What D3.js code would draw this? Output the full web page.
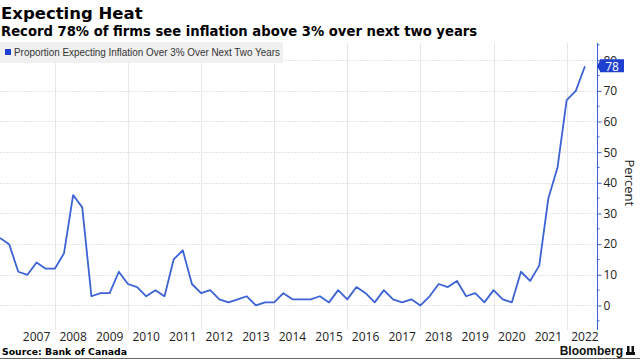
<!DOCTYPE html>
<html>
<head>
<meta charset="utf-8">
<script src="https://cdn.jsdelivr.net/npm/d3@7"></script>
<style>
  html, body { margin: 0; padding: 0; background: #ffffff; }
  svg { display: block; }
</style>
</head>
<body>
<script>
// ---- Data ----
const quarters = [
  "2006Q2","2006Q3","2006Q4",
  "2007Q1","2007Q2","2007Q3","2007Q4",
  "2008Q1","2008Q2","2008Q3","2008Q4",
  "2009Q1","2009Q2","2009Q3","2009Q4",
  "2010Q1","2010Q2","2010Q3","2010Q4",
  "2011Q1","2011Q2","2011Q3","2011Q4",
  "2012Q1","2012Q2","2012Q3","2012Q4",
  "2013Q1","2013Q2","2013Q3","2013Q4",
  "2014Q1","2014Q2","2014Q3","2014Q4",
  "2015Q1","2015Q2","2015Q3","2015Q4",
  "2016Q1","2016Q2","2016Q3","2016Q4",
  "2017Q1","2017Q2","2017Q3","2017Q4",
  "2018Q1","2018Q2","2018Q3","2018Q4",
  "2019Q1","2019Q2","2019Q3","2019Q4",
  "2020Q1","2020Q2","2020Q3","2020Q4",
  "2021Q1","2021Q2","2021Q3","2021Q4",
  "2022Q1","2022Q2"
];
const proportionValues = [
  22, 20, 11,
  10, 14, 12, 12,
  17, 36, 32, 3,
  4, 4, 11, 7,
  6, 3, 5, 3,
  15, 18, 7, 4,
  5, 2, 1, 2,
  3, 0, 1, 1,
  4, 2, 2, 2,
  3, 1, 5, 2,
  6, 4, 1, 5,
  2, 1, 2, 0,
  3, 7, 6, 8,
  3, 4, 1, 5,
  2, 1, 11, 8,
  13, 35, 45, 67,
  70, 78
];
const yearLabels = ["2007","2008","2009","2010","2011","2012","2013","2014","2015","2016","2017","2018","2019","2020","2021","2022"];
const gridYears = [2008, 2010, 2012, 2014, 2016, 2018, 2020, 2022];
const yTicks = [0, 10, 20, 30, 40, 50, 60, 70, 80];
const yMinorTicks = [-5, 5, 15, 25, 35, 45, 55, 65, 75, 85];
const seriesName = "Proportion Expecting Inflation Over 3% Over Next Two Years";
const titleText = "Expecting Heat";
const subtitleText = "Record 78% of firms see inflation above 3% over next two years";
const sourceText = "Source: Bank of Canada";

// ---- Setup ----
const W = 640, H = 359;
const plot = { left: 0, right: 597, top: 43, bottom: 330 };
const lineColor = "#3c63d3";
const axisColor = "#3c63d3";
const boldFont = "DejaVu Sans, Verdana, sans-serif";

const svg = d3.select("body").append("svg").attr("width", W).attr("height", H);

const toYear = q => +q.slice(0, 4) + (+q.slice(5)) / 4;

const x = d3.scaleLinear().domain([2006.5, 2022.83]).range([plot.left, plot.right]);
const y = d3.scaleLinear().domain([-8, 85.6]).range([plot.bottom, plot.top]);

// Title & subtitle
svg.append("text").attr("x", 1).attr("y", 19)
  .attr("font-family", boldFont).attr("font-weight", "bold")
  .attr("font-size", 16.5).attr("fill", "#000").text(titleText);
svg.append("text").attr("x", 1).attr("y", 36)
  .attr("font-family", boldFont).attr("font-weight", "bold")
  .attr("font-size", 13.2).attr("fill", "#000").text(subtitleText);

// Gridlines
const grid = svg.append("g");
grid.selectAll("line.h").data(yTicks).join("line")
  .attr("x1", plot.left).attr("x2", plot.right)
  .attr("y1", d => Math.round(y(d)) + 0.5).attr("y2", d => Math.round(y(d)) + 0.5)
  .attr("stroke", "#e3e3e3").attr("stroke-width", 1).attr("stroke-dasharray", "2,1");
grid.selectAll("line.v").data(gridYears).join("line")
  .attr("x1", d => Math.round(x(d)) + 0.5).attr("x2", d => Math.round(x(d)) + 0.5)
  .attr("y1", plot.top).attr("y2", plot.bottom)
  .attr("stroke", "#e6e6e6").attr("stroke-width", 1);

// Legend
const legend = svg.append("g");
legend.append("rect").attr("x", 0).attr("y", 42).attr("width", 283).attr("height", 21).attr("fill", "#f0f0f0");
legend.append("rect").attr("x", 5).attr("y", 49).attr("width", 6).attr("height", 6).attr("fill", "#1f3fd0");
legend.append("text").attr("x", 14).attr("y", 56)
  .attr("font-family", "Liberation Sans Narrow, Arial Narrow, sans-serif")
  .attr("font-size", 10.5).attr("fill", "#333")
  .attr("textLength", 266).attr("lengthAdjust", "spacingAndGlyphs")
  .text(seriesName);

// Line
const data = quarters.map((q, i) => ({ t: toYear(q), v: proportionValues[i] }));
svg.append("path").datum(data)
  .attr("fill", "none").attr("stroke", lineColor).attr("stroke-width", 1.8)
  .attr("stroke-linejoin", "round")
  .attr("d", d3.line().x(d => x(d.t)).y(d => y(d.v)));

// Right axis
const axisG = svg.append("g").attr("transform", `translate(${plot.right + 0.5},0)`);
axisG.append("line").attr("x1", 0).attr("x2", 0).attr("y1", plot.top).attr("y2", plot.bottom)
  .attr("stroke", axisColor).attr("stroke-width", 1);
const yAxis = d3.axisRight(y).tickValues(yTicks).tickSize(4).tickPadding(2);
const ag = axisG.append("g").call(yAxis);
ag.select(".domain").remove();
ag.selectAll(".tick line").attr("stroke", axisColor);
ag.selectAll(".tick text").attr("font-family", "Open Sans, Liberation Sans, sans-serif")
  .attr("font-size", 12).attr("fill", "#222");
axisG.selectAll("line.minor").data(yMinorTicks).join("line")
  .attr("x1", 0).attr("x2", 2)
  .attr("y1", d => y(d)).attr("y2", d => y(d))
  .attr("stroke", axisColor);

// "Percent" label
svg.append("text").attr("transform", `translate(625,${y(40)}) rotate(90)`)
  .attr("text-anchor", "middle").attr("font-family", "Open Sans, Liberation Sans, sans-serif")
  .attr("font-size", 13).attr("fill", "#222").text("Percent");

// Last value label
const last = data[data.length - 1];
const ly = y(last.v);
svg.append("path")
  .attr("d", `M${plot.right},${ly} L${plot.right + 3},${ly - 6} L${plot.right + 3},${ly - 7} L${plot.right + 27},${ly - 7} L${plot.right + 27},${ly + 6} L${plot.right + 3},${ly + 6} L${plot.right + 3},${ly + 5} Z`)
  .attr("fill", "#1f3fd0");
svg.append("text").attr("x", plot.right + 15).attr("y", ly + 4.5)
  .attr("text-anchor", "middle").attr("font-family", "Open Sans, Liberation Sans, sans-serif")
  .attr("font-size", 12).attr("fill", "#fff").text(String(last.v));

// X axis labels
svg.append("g").selectAll("text").data(yearLabels).join("text")
  .attr("x", d => x(+d + 0.5)).attr("y", 341)
  .attr("text-anchor", "middle").attr("font-family", "Open Sans, Liberation Sans, sans-serif")
  .attr("font-size", 12).attr("fill", "#222").text(d => d);

// Source & Bloomberg
svg.append("text").attr("x", 2).attr("y", 355)
  .attr("font-family", boldFont).attr("font-weight", "bold")
  .attr("font-size", 9.3).attr("fill", "#000").text(sourceText);
svg.append("text").attr("x", 623).attr("y", 355).attr("text-anchor", "end")
  .attr("font-family", "Liberation Sans, Arial, sans-serif").attr("font-weight", "bold")
  .attr("font-size", 12).attr("fill", "#111").text("Bloomberg");
// small logo mark
const logo = svg.append("g").attr("fill", "#111");
logo.append("rect").attr("x", 627).attr("y", 346).attr("width", 2.5).attr("height", 7);
logo.append("rect").attr("x", 631.5).attr("y", 346).attr("width", 2.5).attr("height", 7);
logo.append("rect").attr("x", 626).attr("y", 352).attr("width", 9).attr("height", 3);

svg.append("line").attr("x1", 0).attr("x2", W).attr("y1", 358.5).attr("y2", 358.5)
  .attr("stroke", "#666").attr("stroke-width", 1);
</script>
</body>
</html>
